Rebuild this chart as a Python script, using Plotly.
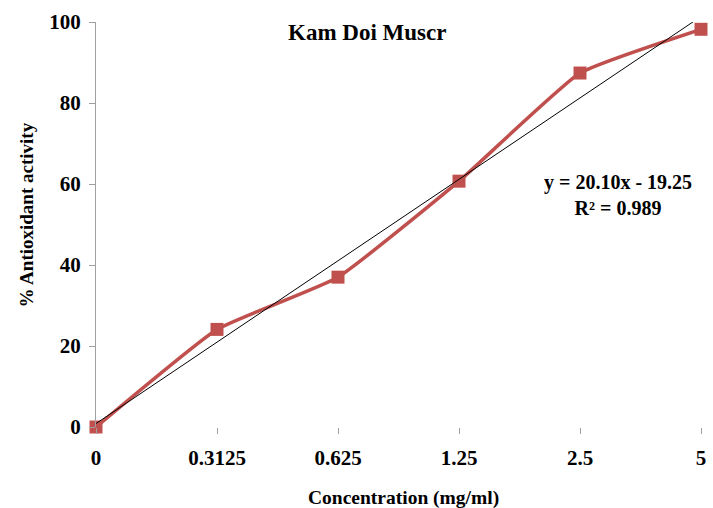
import plotly.graph_objects as go

categories = ["0", "0.3125", "0.625", "1.25", "2.5", "5"]
activity = [0, 24.1, 37.0, 60.7, 87.4, 98.2]
y_ticks = [0, 20, 40, 60, 80, 100]
trend_slope = 20.10
trend_intercept = -19.25

idx = list(range(len(categories)))
trend_x = [idx[0], idx[-1]]
trend_y = [trend_slope * (i + 1) + trend_intercept for i in trend_x]

FONT = "Liberation Serif"
RED = "#C0504D"

fig = go.Figure()
fig.add_trace(go.Scatter(
    x=idx, y=activity, mode="lines+markers",
    line=dict(color=RED, width=3.5, shape="spline", smoothing=0.4),
    marker=dict(symbol="square", size=13, color=RED),
    cliponaxis=False, showlegend=False,
))
fig.add_trace(go.Scatter(
    x=trend_x, y=trend_y, mode="lines",
    line=dict(color="black", width=1),
    showlegend=False,
))

fig.update_layout(
    width=713, height=508,
    margin=dict(l=96, r=7, t=22, b=81),
    paper_bgcolor="white", plot_bgcolor="white",
    font=dict(family=FONT, color="black"),
    xaxis=dict(
        range=[0, 5], tickvals=idx, ticktext=categories,
        showline=False, showgrid=False, zeroline=False,
        ticks="outside", ticklen=6, tickcolor="#a0a0a0", tickwidth=1,
        tickfont=dict(family=FONT, size=21, color="black", weight="bold"),
        ticklabelstandoff=6,
    ),
    yaxis=dict(
        range=[0, 100], tickvals=y_ticks,
        showline=True, linecolor="#a0a0a0", linewidth=1,
        showgrid=False, zeroline=False,
        ticks="outside", ticklen=6, tickcolor="#a0a0a0", tickwidth=1,
        tickfont=dict(family=FONT, size=21, color="black", weight="bold"),
        ticklabelstandoff=4,
    ),
    annotations=[
        dict(text="<b>Kam Doi Muscr</b>", x=369, y=508 - 32,
             showarrow=False, font=dict(family=FONT, size=23), xanchor="center", yanchor="middle"),
        dict(text="<b>y = 20.10x - 19.25</b><br><b>R² = 0.989</b>", x=622, y=508 - 195,
             showarrow=False, font=dict(family=FONT, size=20), xanchor="center", yanchor="middle"),
        dict(text="<b>Concentration (mg/ml)</b>", x=406, y=508 - 498,
             showarrow=False, font=dict(family=FONT, size=19.5), xanchor="center", yanchor="middle"),
        dict(text="<b>% Antioxidant activity</b>", x=25, y=508 - 215, textangle=-90,
             showarrow=False, font=dict(family=FONT, size=19), xanchor="center", yanchor="middle"),
    ],
)

# convert pixel-based annotation positions to paper coordinates
W, H = 713, 508
l, r, t, b = 96, 7, 22, 81
pw, ph = W - l - r, H - t - b
for ann in fig.layout.annotations:
    ann.xref = "paper"
    ann.yref = "paper"
    ann.x = (ann.x - l) / pw
    ann.y = (ann.y - b) / ph

fig.write_html("out.html")
